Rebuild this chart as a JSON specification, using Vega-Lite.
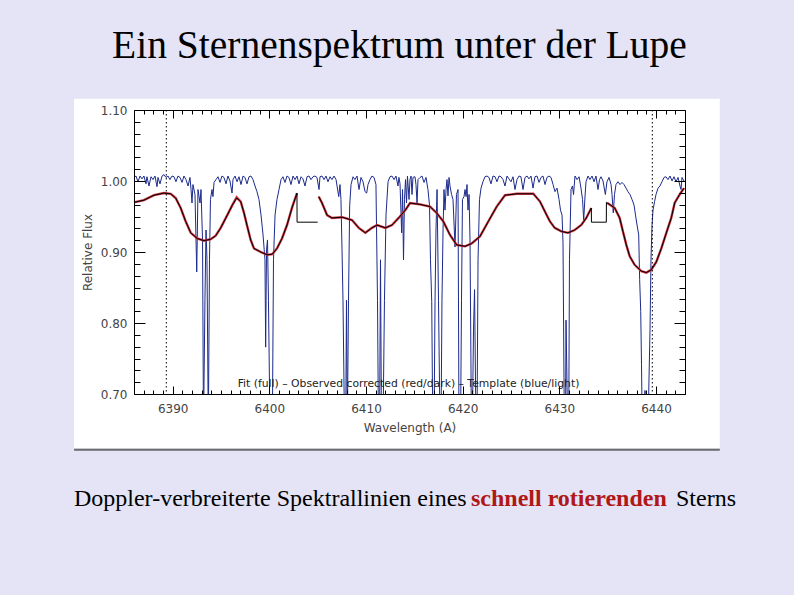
{
  "$schema": "https://vega.github.io/schema/vega-lite/v6.json",
  "width": 551,
  "height": 284,
  "autosize": "none",
  "padding": {"left": 134, "top": 110, "right": 109, "bottom": 201},
  "background": "#e4e4f6",
  "title": {
    "text": "Ein Sternenspektrum unter der Lupe",
    "font": "Liberation Serif",
    "fontSize": 39.5,
    "fontWeight": "normal",
    "color": "#000000",
    "anchor": "middle",
    "frame": "group",
    "baseline": "alphabetic",
    "offset": 1,
    "dx": -10
  },
  "config": {
    "view": {"stroke": null},
    "axis": {
      "grid": false,
      "domainColor": "#000000",
      "domainWidth": 1,
      "tickColor": "#000000",
      "tickWidth": 1,
      "labelFont": "DejaVu Sans",
      "labelFontSize": 12,
      "labelColor": "#444444",
      "titleFont": "DejaVu Sans",
      "titleFontSize": 12,
      "titleFontWeight": "normal",
      "titleColor": "#444444",
      "labelOverlap": false,
      "labelFlush": false
    }
  },
  "datasets": {
    "template": [
      {"w":6386.00,"f":1.005},{"w":6386.21,"f":1.007},{"w":6386.41,"f":0.999},{"w":6386.62,"f":1.007},{"w":6386.83,"f":1.003},{"w":6387.03,"f":1.007},{"w":6387.24,"f":0.996},{"w":6387.34,"f":1.006},{"w":6387.55,"f":0.993},{"w":6387.76,"f":1.006},{"w":6387.97,"f":1.002},{"w":6388.17,"f":1.007},{"w":6388.38,"f":0.992},{"w":6388.48,"f":1.005},{"w":6388.69,"f":0.996},{"w":6388.90,"f":1.007},{"w":6389.10,"f":1.009},{"w":6389.31,"f":1.005},{"w":6389.52,"f":1.007},{"w":6389.72,"f":1.002},{"w":6389.93,"f":1.007},{"w":6390.14,"f":1.006},{"w":6390.34,"f":0.999},{"w":6390.55,"f":1.007},{"w":6390.76,"f":1.005},{"w":6390.97,"f":0.998},{"w":6391.17,"f":1.007},{"w":6391.38,"f":1.002},{"w":6391.59,"f":0.993},{"w":6391.79,"f":1.005},{"w":6391.90,"f":0.988},{"w":6392.00,"f":0.969},{"w":6392.10,"f":0.995},{"w":6392.31,"f":0.981},{"w":6392.49,"f":0.872},{"w":6392.62,"f":0.988},{"w":6392.83,"f":0.969},{"w":6392.93,"f":0.988},{"w":6393.09,"f":0.917},{"w":6393.19,"f":0.65},{"w":6393.34,"f":0.832},{"w":6393.45,"f":0.931},{"w":6393.55,"f":0.889},{"w":6393.69,"f":0.65},{"w":6393.81,"f":0.889},{"w":6393.91,"f":0.974},{"w":6394.07,"f":0.988},{"w":6394.17,"f":0.978},{"w":6394.28,"f":0.998},{"w":6394.48,"f":1.002},{"w":6394.69,"f":1.006},{"w":6394.90,"f":0.998},{"w":6395.10,"f":1.007},{"w":6395.31,"f":1.005},{"w":6395.52,"f":0.996},{"w":6395.72,"f":1.007},{"w":6395.93,"f":1.000},{"w":6396.14,"f":0.983},{"w":6396.24,"f":1.002},{"w":6396.45,"f":1.007},{"w":6396.66,"f":0.999},{"w":6396.86,"f":1.006},{"w":6397.07,"f":0.995},{"w":6397.28,"f":1.007},{"w":6397.48,"f":1.005},{"w":6397.69,"f":0.996},{"w":6397.90,"f":1.006},{"w":6398.10,"f":1.007},{"w":6398.31,"f":1.002},{"w":6398.52,"f":0.993},{"w":6398.72,"f":0.985},{"w":6398.93,"f":0.974},{"w":6399.14,"f":0.952},{"w":6399.35,"f":0.924},{"w":6399.55,"f":0.889},{"w":6399.62,"f":0.766},{"w":6399.71,"f":0.903},{"w":6399.81,"f":0.917},{"w":6399.91,"f":0.832},{"w":6400.07,"f":0.65},{"w":6400.31,"f":0.65},{"w":6400.43,"f":0.889},{"w":6400.59,"f":0.952},{"w":6400.79,"f":0.974},{"w":6401.00,"f":0.988},{"w":6401.21,"f":1.002},{"w":6401.41,"f":1.006},{"w":6401.62,"f":0.998},{"w":6401.83,"f":1.007},{"w":6402.03,"f":1.005},{"w":6402.24,"f":0.995},{"w":6402.45,"f":1.007},{"w":6402.66,"f":1.002},{"w":6402.86,"f":1.007},{"w":6403.07,"f":0.996},{"w":6403.28,"f":1.006},{"w":6403.48,"f":1.003},{"w":6403.69,"f":0.993},{"w":6403.90,"f":1.006},{"w":6404.10,"f":1.007},{"w":6404.31,"f":1.002},{"w":6404.52,"f":1.006},{"w":6404.72,"f":1.007},{"w":6404.93,"f":1.005},{"w":6405.14,"f":0.988},{"w":6405.24,"f":1.006},{"w":6405.45,"f":1.007},{"w":6405.66,"f":1.002},{"w":6405.86,"f":1.007},{"w":6406.07,"f":0.999},{"w":6406.28,"f":1.006},{"w":6406.48,"f":1.002},{"w":6406.69,"f":1.007},{"w":6406.90,"f":1.002},{"w":6407.18,"f":0.978},{"w":6407.31,"f":0.995},{"w":6407.41,"f":0.974},{"w":6407.52,"f":0.903},{"w":6407.62,"f":0.832},{"w":6407.78,"f":0.65},{"w":6407.90,"f":0.65},{"w":6407.98,"f":0.832},{"w":6408.07,"f":0.65},{"w":6408.19,"f":0.832},{"w":6408.31,"f":0.965},{"w":6408.45,"f":0.995},{"w":6408.66,"f":1.006},{"w":6408.86,"f":1.002},{"w":6409.07,"f":1.007},{"w":6409.28,"f":0.988},{"w":6409.48,"f":1.005},{"w":6409.69,"f":0.999},{"w":6409.90,"f":0.985},{"w":6410.07,"f":0.983},{"w":6410.21,"f":0.995},{"w":6410.41,"f":1.002},{"w":6410.62,"f":1.007},{"w":6410.83,"f":1.005},{"w":6411.03,"f":0.995},{"w":6411.19,"f":0.832},{"w":6411.29,"f":0.65},{"w":6411.40,"f":0.65},{"w":6411.50,"f":0.889},{"w":6411.60,"f":0.65},{"w":6411.76,"f":0.65},{"w":6411.91,"f":0.832},{"w":6412.07,"f":0.952},{"w":6412.28,"f":0.999},{"w":6412.48,"f":1.006},{"w":6412.69,"f":1.007},{"w":6412.90,"f":1.002},{"w":6413.10,"f":1.007},{"w":6413.31,"f":0.993},{"w":6413.41,"f":1.005},{"w":6413.52,"f":0.996},{"w":6413.69,"f":0.927},{"w":6413.78,"f":0.988},{"w":6413.88,"f":0.889},{"w":6413.98,"f":0.974},{"w":6414.09,"f":1.002},{"w":6414.19,"f":0.969},{"w":6414.29,"f":1.007},{"w":6414.45,"f":0.974},{"w":6414.55,"f":1.002},{"w":6414.66,"f":1.007},{"w":6414.76,"f":0.981},{"w":6414.86,"f":1.005},{"w":6415.07,"f":1.006},{"w":6415.17,"f":0.995},{"w":6415.28,"f":0.969},{"w":6415.38,"f":1.002},{"w":6415.59,"f":1.005},{"w":6415.79,"f":1.007},{"w":6416.00,"f":0.998},{"w":6416.21,"f":1.005},{"w":6416.41,"f":0.988},{"w":6416.57,"f":0.966},{"w":6416.67,"f":0.889},{"w":6416.80,"f":0.830},{"w":6416.91,"f":0.65},{"w":6417.04,"f":0.65},{"w":6417.14,"f":0.830},{"w":6417.24,"f":0.931},{"w":6417.35,"f":0.988},{"w":6417.50,"f":0.832},{"w":6417.66,"f":0.65},{"w":6417.76,"f":0.65},{"w":6417.86,"f":0.832},{"w":6417.97,"f":0.931},{"w":6418.07,"f":0.988},{"w":6418.17,"f":0.959},{"w":6418.28,"f":0.988},{"w":6418.38,"f":1.002},{"w":6418.48,"f":0.979},{"w":6418.59,"f":1.005},{"w":6418.69,"f":0.993},{"w":6418.85,"f":0.981},{"w":6419.00,"f":0.974},{"w":6419.21,"f":0.907},{"w":6419.36,"f":0.981},{"w":6419.52,"f":0.988},{"w":6419.62,"f":0.65},{"w":6419.78,"f":0.65},{"w":6419.88,"f":0.832},{"w":6419.98,"f":0.974},{"w":6420.14,"f":0.978},{"w":6420.24,"f":0.988},{"w":6420.35,"f":0.978},{"w":6420.45,"f":0.995},{"w":6420.55,"f":0.959},{"w":6420.66,"f":0.981},{"w":6420.76,"f":0.917},{"w":6420.91,"f":0.65},{"w":6421.00,"f":0.65},{"w":6421.12,"f":0.790},{"w":6421.23,"f":0.847},{"w":6421.38,"f":0.65},{"w":6421.48,"f":0.65},{"w":6421.59,"f":0.889},{"w":6421.74,"f":0.974},{"w":6421.90,"f":0.990},{"w":6422.10,"f":0.999},{"w":6422.31,"f":1.006},{"w":6422.52,"f":1.007},{"w":6422.72,"f":1.005},{"w":6422.93,"f":0.996},{"w":6423.14,"f":1.007},{"w":6423.35,"f":1.006},{"w":6423.55,"f":0.999},{"w":6423.76,"f":1.007},{"w":6423.97,"f":1.006},{"w":6424.17,"f":1.002},{"w":6424.38,"f":0.993},{"w":6424.59,"f":1.007},{"w":6424.79,"f":1.003},{"w":6425.00,"f":0.999},{"w":6425.21,"f":1.006},{"w":6425.41,"f":0.988},{"w":6425.62,"f":1.002},{"w":6425.83,"f":1.007},{"w":6426.03,"f":1.006},{"w":6426.24,"f":0.988},{"w":6426.45,"f":1.005},{"w":6426.66,"f":1.007},{"w":6426.86,"f":1.003},{"w":6427.07,"f":1.007},{"w":6427.28,"f":0.990},{"w":6427.48,"f":1.006},{"w":6427.69,"f":1.007},{"w":6427.90,"f":0.998},{"w":6428.10,"f":1.005},{"w":6428.31,"f":1.007},{"w":6428.52,"f":0.995},{"w":6428.72,"f":1.005},{"w":6428.93,"f":1.007},{"w":6429.14,"f":1.005},{"w":6429.35,"f":0.995},{"w":6429.55,"f":0.985},{"w":6429.76,"f":0.990},{"w":6429.97,"f":0.974},{"w":6430.12,"f":0.959},{"w":6430.28,"f":0.952},{"w":6430.38,"f":0.913},{"w":6430.52,"f":0.65},{"w":6430.64,"f":0.65},{"w":6430.69,"f":0.804},{"w":6430.87,"f":0.65},{"w":6430.97,"f":0.65},{"w":6431.05,"f":0.889},{"w":6431.21,"f":0.988},{"w":6431.36,"f":0.993},{"w":6431.47,"f":0.981},{"w":6431.62,"f":1.007},{"w":6431.83,"f":1.002},{"w":6432.04,"f":1.006},{"w":6432.24,"f":0.990},{"w":6432.40,"f":0.974},{"w":6432.52,"f":0.945},{"w":6432.66,"f":0.979},{"w":6432.76,"f":0.999},{"w":6432.97,"f":1.007},{"w":6433.17,"f":1.002},{"w":6433.38,"f":1.007},{"w":6433.59,"f":0.999},{"w":6433.79,"f":1.007},{"w":6434.00,"f":0.988},{"w":6434.16,"f":1.002},{"w":6434.31,"f":1.006},{"w":6434.52,"f":1.000},{"w":6434.76,"f":0.981},{"w":6434.93,"f":0.999},{"w":6435.14,"f":1.005},{"w":6435.35,"f":0.995},{"w":6435.45,"f":0.981},{"w":6435.58,"f":0.955},{"w":6435.71,"f":0.981},{"w":6435.86,"f":0.995},{"w":6436.07,"f":0.999},{"w":6436.28,"f":0.995},{"w":6436.48,"f":0.998},{"w":6436.69,"f":0.995},{"w":6436.90,"f":0.990},{"w":6437.10,"f":0.985},{"w":6437.31,"f":0.981},{"w":6437.52,"f":0.974},{"w":6437.73,"f":0.966},{"w":6437.88,"f":0.952},{"w":6438.04,"f":0.938},{"w":6438.21,"f":0.924},{"w":6438.31,"f":0.861},{"w":6438.42,"f":0.816},{"w":6438.50,"f":0.742},{"w":6438.58,"f":0.65},{"w":6438.71,"f":0.65},{"w":6438.86,"f":0.705},{"w":6439.00,"f":0.65},{"w":6439.17,"f":0.65},{"w":6439.38,"f":0.790},{"w":6439.48,"f":0.889},{"w":6439.59,"f":0.938},{"w":6439.69,"f":0.959},{"w":6439.85,"f":0.971},{"w":6440.00,"f":0.981},{"w":6440.21,"f":0.990},{"w":6440.41,"f":0.993},{"w":6440.62,"f":0.999},{"w":6440.83,"f":1.005},{"w":6441.03,"f":1.006},{"w":6441.24,"f":1.002},{"w":6441.45,"f":1.007},{"w":6441.66,"f":1.000},{"w":6441.86,"f":1.006},{"w":6442.07,"f":0.999},{"w":6442.28,"f":1.005},{"w":6442.48,"f":0.993},{"w":6442.59,"f":0.988},{"w":6442.69,"f":1.005},{"w":6442.90,"f":1.000}
    ],
    "observed": [
      {"seg":1,"w":6386.00,"f":0.970},{"seg":1,"w":6387.03,"f":0.973},{"seg":1,"w":6388.07,"f":0.980},{"seg":1,"w":6389.10,"f":0.983},{"seg":1,"w":6389.80,"f":0.982},{"seg":1,"w":6390.31,"f":0.976},{"seg":1,"w":6390.83,"f":0.962},{"seg":1,"w":6391.35,"f":0.943},{"seg":1,"w":6391.87,"f":0.927},{"seg":1,"w":6392.55,"f":0.919},{"seg":1,"w":6393.24,"f":0.916},{"seg":1,"w":6393.94,"f":0.918},{"seg":1,"w":6394.45,"f":0.923},{"seg":1,"w":6394.97,"f":0.934},{"seg":1,"w":6395.65,"f":0.952},{"seg":1,"w":6396.17,"f":0.966},{"seg":1,"w":6396.62,"f":0.977},{"seg":1,"w":6397.04,"f":0.971},{"seg":1,"w":6397.38,"f":0.955},{"seg":1,"w":6397.72,"f":0.936},{"seg":1,"w":6398.07,"f":0.917},{"seg":1,"w":6398.41,"f":0.905},{"seg":1,"w":6399.11,"f":0.900},{"seg":1,"w":6399.79,"f":0.896},{"seg":1,"w":6400.31,"f":0.897},{"seg":1,"w":6400.79,"f":0.905},{"seg":1,"w":6401.31,"f":0.919},{"seg":1,"w":6401.83,"f":0.938},{"seg":1,"w":6402.34,"f":0.962},{"seg":1,"w":6402.86,"f":0.983},
      {"seg":2,"w":6405.11,"f":0.978},{"seg":2,"w":6405.45,"f":0.969},{"seg":2,"w":6405.97,"f":0.952},{"seg":2,"w":6406.48,"f":0.948},{"seg":2,"w":6407.52,"f":0.949},{"seg":2,"w":6408.55,"f":0.945},{"seg":2,"w":6409.25,"f":0.934},{"seg":2,"w":6409.93,"f":0.927},{"seg":2,"w":6410.62,"f":0.934},{"seg":2,"w":6411.14,"f":0.938},{"seg":2,"w":6412.00,"f":0.934},{"seg":2,"w":6412.69,"f":0.938},{"seg":2,"w":6413.38,"f":0.948},{"seg":2,"w":6414.07,"f":0.959},{"seg":2,"w":6414.55,"f":0.969},{"seg":2,"w":6415.59,"f":0.967},{"seg":2,"w":6416.62,"f":0.964},{"seg":2,"w":6417.31,"f":0.955},{"seg":2,"w":6418.00,"f":0.943},{"seg":2,"w":6418.69,"f":0.924},{"seg":2,"w":6419.38,"f":0.910},{"seg":2,"w":6420.24,"f":0.908},{"seg":2,"w":6420.93,"f":0.912},{"seg":2,"w":6421.79,"f":0.922},{"seg":2,"w":6422.65,"f":0.943},{"seg":2,"w":6423.52,"f":0.964},{"seg":2,"w":6424.38,"f":0.980},{"seg":2,"w":6425.59,"f":0.982},{"seg":2,"w":6427.31,"f":0.982},{"seg":2,"w":6428.00,"f":0.971},{"seg":2,"w":6428.69,"f":0.952},{"seg":2,"w":6429.03,"f":0.943},{"seg":2,"w":6429.52,"f":0.934},{"seg":2,"w":6430.21,"f":0.929},{"seg":2,"w":6430.90,"f":0.927},{"seg":2,"w":6431.59,"f":0.931},{"seg":2,"w":6432.27,"f":0.938},{"seg":2,"w":6432.79,"f":0.948},{"seg":2,"w":6433.31,"f":0.962},
      {"seg":3,"w":6434.96,"f":0.969},{"seg":3,"w":6435.73,"f":0.962},{"seg":3,"w":6436.24,"f":0.948},{"seg":3,"w":6436.58,"f":0.929},{"seg":3,"w":6436.93,"f":0.910},{"seg":3,"w":6437.28,"f":0.894},{"seg":3,"w":6437.79,"f":0.882},{"seg":3,"w":6438.48,"f":0.873},{"seg":3,"w":6439.00,"f":0.871},{"seg":3,"w":6439.51,"f":0.875},{"seg":3,"w":6440.03,"f":0.886},{"seg":3,"w":6440.55,"f":0.905},{"seg":3,"w":6441.07,"f":0.927},{"seg":3,"w":6441.58,"f":0.948},{"seg":3,"w":6441.93,"f":0.969},{"seg":3,"w":6442.45,"f":0.981},{"seg":3,"w":6442.90,"f":0.990}
    ],
    "fit": [
      {"seg":1,"w":6386.00,"f":0.970},{"seg":1,"w":6387.03,"f":0.973},{"seg":1,"w":6388.07,"f":0.980},{"seg":1,"w":6389.10,"f":0.983},{"seg":1,"w":6389.80,"f":0.982},{"seg":1,"w":6390.31,"f":0.976},{"seg":1,"w":6390.83,"f":0.962},{"seg":1,"w":6391.35,"f":0.943},{"seg":1,"w":6391.87,"f":0.927},{"seg":1,"w":6392.55,"f":0.919},{"seg":1,"w":6393.24,"f":0.916},{"seg":1,"w":6393.94,"f":0.918},{"seg":1,"w":6394.45,"f":0.923},{"seg":1,"w":6394.97,"f":0.934},{"seg":1,"w":6395.65,"f":0.952},{"seg":1,"w":6396.17,"f":0.966},{"seg":1,"w":6396.62,"f":0.976},{"seg":1,"w":6397.04,"f":0.971},{"seg":1,"w":6397.38,"f":0.955},{"seg":1,"w":6397.72,"f":0.936},{"seg":1,"w":6398.07,"f":0.917},{"seg":1,"w":6398.41,"f":0.905},{"seg":1,"w":6399.11,"f":0.900},{"seg":1,"w":6399.79,"f":0.896},{"seg":1,"w":6400.31,"f":0.897},{"seg":1,"w":6400.79,"f":0.905},{"seg":1,"w":6401.31,"f":0.919},{"seg":1,"w":6401.83,"f":0.938},{"seg":1,"w":6402.34,"f":0.962},{"seg":1,"w":6402.86,"f":0.983},{"seg":1,"w":6402.87,"f":0.942},{"seg":1,"w":6405.00,"f":0.942},
      {"seg":2,"w":6405.11,"f":0.978},{"seg":2,"w":6405.45,"f":0.969},{"seg":2,"w":6405.97,"f":0.952},{"seg":2,"w":6406.48,"f":0.948},{"seg":2,"w":6407.52,"f":0.949},{"seg":2,"w":6408.55,"f":0.945},{"seg":2,"w":6409.25,"f":0.934},{"seg":2,"w":6409.93,"f":0.927},{"seg":2,"w":6410.62,"f":0.934},{"seg":2,"w":6411.14,"f":0.938},{"seg":2,"w":6412.00,"f":0.934},{"seg":2,"w":6412.69,"f":0.938},{"seg":2,"w":6413.38,"f":0.948},{"seg":2,"w":6414.07,"f":0.959},{"seg":2,"w":6414.55,"f":0.969},{"seg":2,"w":6415.59,"f":0.967},{"seg":2,"w":6416.62,"f":0.964},{"seg":2,"w":6417.31,"f":0.955},{"seg":2,"w":6418.00,"f":0.943},{"seg":2,"w":6418.69,"f":0.924},{"seg":2,"w":6419.38,"f":0.910},{"seg":2,"w":6420.24,"f":0.908},{"seg":2,"w":6420.93,"f":0.912},{"seg":2,"w":6421.79,"f":0.922},{"seg":2,"w":6422.65,"f":0.943},{"seg":2,"w":6423.52,"f":0.964},{"seg":2,"w":6424.38,"f":0.980},{"seg":2,"w":6425.59,"f":0.982},{"seg":2,"w":6427.31,"f":0.982},{"seg":2,"w":6428.00,"f":0.971},{"seg":2,"w":6428.69,"f":0.952},{"seg":2,"w":6429.03,"f":0.943},{"seg":2,"w":6429.52,"f":0.934},{"seg":2,"w":6430.21,"f":0.929},{"seg":2,"w":6430.90,"f":0.927},{"seg":2,"w":6431.59,"f":0.931},{"seg":2,"w":6432.27,"f":0.938},{"seg":2,"w":6432.79,"f":0.948},{"seg":2,"w":6433.31,"f":0.962},{"seg":2,"w":6433.32,"f":0.942},{"seg":2,"w":6434.86,"f":0.942},{"seg":2,"w":6434.87,"f":0.970},{"seg":2,"w":6435.73,"f":0.962},{"seg":2,"w":6436.24,"f":0.948},{"seg":2,"w":6436.58,"f":0.929},{"seg":2,"w":6436.93,"f":0.910},{"seg":2,"w":6437.28,"f":0.894},{"seg":2,"w":6437.79,"f":0.882},{"seg":2,"w":6438.48,"f":0.873},{"seg":2,"w":6439.00,"f":0.871},{"seg":2,"w":6439.51,"f":0.875},{"seg":2,"w":6440.03,"f":0.886},{"seg":2,"w":6440.55,"f":0.905},{"seg":2,"w":6441.07,"f":0.927},{"seg":2,"w":6441.58,"f":0.948},{"seg":2,"w":6441.93,"f":0.969},{"seg":2,"w":6442.45,"f":0.981},{"seg":2,"w":6442.90,"f":0.990}
    ],
    "markers": [{"w": 6389.34}, {"w": 6439.62}]
  },
  "resolve": {"axis": {"x": "independent", "y": "independent"}},
  "layer": [
    {
      "data": {"values": [{}]},
      "mark": {"type": "rect", "fill": "#ffffff", "clip": false},
      "encoding": {
        "x": {"datum": 6379.8, "type": "quantitative", "scale": {"domain": [6386, 6443], "nice": false, "zero": false}, "axis": null},
        "x2": {"datum": 6446.6},
        "y": {"datum": 1.116, "type": "quantitative", "scale": {"domain": [0.7, 1.1], "nice": false, "zero": false}, "axis": null},
        "y2": {"datum": 0.6237}
      }
    },
    {
      "data": {"values": [{}]},
      "mark": {"type": "rule", "stroke": "#6a6a6a", "strokeWidth": 2, "clip": false},
      "encoding": {
        "x": {"datum": 6379.8, "type": "quantitative", "axis": null},
        "x2": {"datum": 6446.6},
        "y": {"datum": 0.6215, "type": "quantitative", "axis": null}
      }
    },
    {
      "data": {"name": "template"},
      "mark": {"type": "line", "stroke": "#1c2a8c", "strokeWidth": 1, "clip": true},
      "encoding": {
        "x": {
          "field": "w", "type": "quantitative",
          "scale": {"domain": [6386, 6443], "nice": false, "zero": false},
          "axis": {
            "orient": "bottom",
            "zindex": 1,
            "values": [6386,6387,6388,6389,6390,6391,6392,6393,6394,6395,6396,6397,6398,6399,6400,6401,6402,6403,6404,6405,6406,6407,6408,6409,6410,6411,6412,6413,6414,6415,6416,6417,6418,6419,6420,6421,6422,6423,6424,6425,6426,6427,6428,6429,6430,6431,6432,6433,6434,6435,6436,6437,6438,6439,6440,6441,6442,6443],
            "format": "d",
            "labelExpr": "datum.value % 10 === 0 ? datum.label : ''",
            "tickSize": {"condition": {"test": "datum.value % 10 === 0", "value": -8}, "value": -4},
            "labelPadding": 17,
            "title": "Wavelength (A)",
            "titlePadding": 4
          }
        },
        "y": {
          "field": "f", "type": "quantitative",
          "scale": {"domain": [0.7, 1.1], "nice": false, "zero": false},
          "axis": {
            "orient": "left",
            "zindex": 1,
            "values": [0.7,0.71667,0.73333,0.75,0.76667,0.78333,0.8,0.81667,0.83333,0.85,0.86667,0.88333,0.9,0.91667,0.93333,0.95,0.96667,0.98333,1.0,1.01667,1.03333,1.05,1.06667,1.08333,1.1],
            "format": ".2f",
            "labelExpr": "abs(datum.value * 10 - round(datum.value * 10)) < 0.01 ? datum.label : ''",
            "tickSize": {"condition": {"test": "abs(datum.value * 10 - round(datum.value * 10)) < 0.01", "value": -11}, "value": -6},
            "labelPadding": 18,
            "title": "Relative Flux",
            "titlePadding": 6
          }
        }
      }
    },
    {
      "data": {"name": "observed"},
      "mark": {"type": "line", "stroke": "#cc3340", "strokeWidth": 2.4},
      "encoding": {
        "x": {"field": "w", "type": "quantitative", "axis": null},
        "y": {"field": "f", "type": "quantitative", "axis": null},
        "detail": {"field": "seg"}
      }
    },
    {
      "data": {"name": "fit"},
      "mark": {"type": "line", "stroke": "#000000", "strokeWidth": 1},
      "encoding": {
        "x": {
          "field": "w", "type": "quantitative",
          "axis": {
            "orient": "top",
            "zindex": 1,
            "values": [6386,6387,6388,6389,6390,6391,6392,6393,6394,6395,6396,6397,6398,6399,6400,6401,6402,6403,6404,6405,6406,6407,6408,6409,6410,6411,6412,6413,6414,6415,6416,6417,6418,6419,6420,6421,6422,6423,6424,6425,6426,6427,6428,6429,6430,6431,6432,6433,6434,6435,6436,6437,6438,6439,6440,6441,6442,6443],
            "labels": false,
            "title": null,
            "tickSize": {"condition": {"test": "datum.value % 10 === 0", "value": -8}, "value": -4}
          }
        },
        "y": {
          "field": "f", "type": "quantitative",
          "axis": {
            "orient": "right",
            "zindex": 1,
            "values": [0.7,0.71667,0.73333,0.75,0.76667,0.78333,0.8,0.81667,0.83333,0.85,0.86667,0.88333,0.9,0.91667,0.93333,0.95,0.96667,0.98333,1.0,1.01667,1.03333,1.05,1.06667,1.08333,1.1],
            "labels": false,
            "title": null,
            "tickSize": {"condition": {"test": "abs(datum.value * 10 - round(datum.value * 10)) < 0.01", "value": -11}, "value": -6}
          }
        },
        "detail": {"field": "seg"}
      }
    },
    {
      "data": {"name": "markers"},
      "mark": {"type": "rule", "stroke": "#000000", "strokeWidth": 1, "strokeDash": [1.5, 2.5]},
      "encoding": {
        "x": {"field": "w", "type": "quantitative", "axis": null}
      }
    },
    {
      "data": {"values": [{}]},
      "mark": {"type": "text", "text": "Fit (full) – Observed corrected (red/dark) – Template (blue/light)", "font": "DejaVu Sans", "fontSize": 10.8, "fill": "#222222", "align": "center", "baseline": "alphabetic", "clip": false},
      "encoding": {
        "x": {"datum": 6414.4, "type": "quantitative", "axis": null},
        "y": {"datum": 0.7105, "type": "quantitative", "axis": null}
      }
    },
    {
      "data": {"values": [{}]},
      "mark": {"type": "text", "text": "Doppler-verbreiterte Spektrallinien eines", "font": "Liberation Serif", "fontSize": 24, "fill": "#000000", "align": "left", "baseline": "alphabetic", "clip": false},
      "encoding": {
        "x": {"datum": 6379.79, "type": "quantitative", "axis": null},
        "y": {"datum": 0.542, "type": "quantitative", "axis": null}
      }
    },
    {
      "data": {"values": [{}]},
      "mark": {"type": "text", "text": "schnell rotierenden", "font": "Liberation Serif", "fontSize": 24, "fontWeight": "bold", "fill": "#b01818", "align": "left", "baseline": "alphabetic", "clip": false},
      "encoding": {
        "x": {"datum": 6420.86, "type": "quantitative", "axis": null},
        "y": {"datum": 0.542, "type": "quantitative", "axis": null}
      }
    },
    {
      "data": {"values": [{}]},
      "mark": {"type": "text", "text": "Sterns", "font": "Liberation Serif", "fontSize": 24, "fill": "#000000", "align": "left", "baseline": "alphabetic", "clip": false},
      "encoding": {
        "x": {"datum": 6442.07, "type": "quantitative", "axis": null},
        "y": {"datum": 0.542, "type": "quantitative", "axis": null}
      }
    }
  ]
}
